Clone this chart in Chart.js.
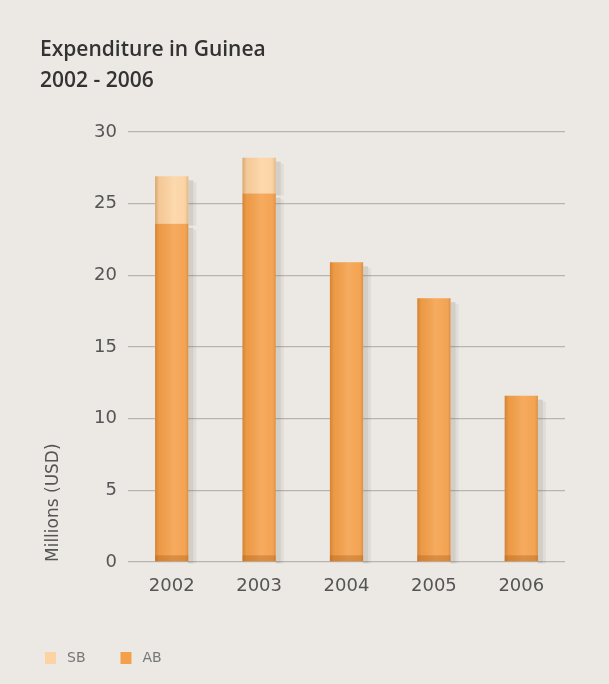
<!DOCTYPE html>
<html>
<head>
<meta charset="utf-8">
<script src="https://cdn.jsdelivr.net/npm/chart.js@4.4.1/dist/chart.umd.min.js"></script>
<style>
  html, body { margin: 0; padding: 0; background: #ece9e4; }
  #wrap { width: 609px; height: 684px; position: relative; }
</style>
</head>
<body>
<div id="wrap"><canvas id="c" width="609" height="684"></canvas></div>
<script>
const categories = ['2002', '2003', '2004', '2005', '2006'];
const abValues = [23.6, 25.7, 20.9, 18.4, 11.6];
const sbValues = [3.3, 2.5, 0, 0, 0];
const yTicks = [0, 5, 10, 15, 20, 25, 30];
const legendOrder = ['SB', 'AB'];

const abColor = '#f4a04a';
const sbColor = '#fcd3a2';

const barShading = {
  id: 'barShading',
  beforeDatasetsDraw(chart) {
    const ctx = chart.ctx;
    ctx.save();
    chart.data.datasets.forEach((ds, di) => {
      const meta = chart.getDatasetMeta(di);
      meta.data.forEach((bar, i) => {
        if (!ds.data[i]) return;
        const w = bar.width;
        const top = Math.min(bar.y, bar.base);
        const h = Math.abs(bar.base - bar.y);
        ctx.fillStyle = 'rgba(120,110,100,0.22)';
        ctx.fillRect(bar.x + w / 2, top + 4, 5, h - 2);
        ctx.fillStyle = 'rgba(120,110,100,0.10)';
        ctx.fillRect(bar.x + w / 2 + 5, top + 6, 3, h - 4);
      });
    });
    ctx.restore();
  },
  afterDatasetsDraw(chart) {
    const ctx = chart.ctx;
    ctx.save();
    chart.data.datasets.forEach((ds, di) => {
      const meta = chart.getDatasetMeta(di);
      meta.data.forEach((bar, i) => {
        if (!ds.data[i]) return;
        const w = bar.width;
        const left = bar.x - w / 2;
        const top = Math.min(bar.y, bar.base);
        const h = Math.abs(bar.base - bar.y);
        const g = ctx.createLinearGradient(left, 0, left + w, 0);
        g.addColorStop(0, 'rgba(150,80,20,0.35)');
        g.addColorStop(0.12, 'rgba(150,80,20,0.08)');
        g.addColorStop(0.55, 'rgba(255,255,255,0.12)');
        g.addColorStop(0.85, 'rgba(255,255,255,0.05)');
        g.addColorStop(1, 'rgba(150,80,20,0.25)');
        ctx.fillStyle = g;
        ctx.fillRect(left, top, w, h);
      });
    });
    const meta0 = chart.getDatasetMeta(0);
    meta0.data.forEach((bar) => {
      const w = bar.width;
      ctx.fillStyle = 'rgba(170,90,20,0.35)';
      ctx.fillRect(bar.x - w / 2, bar.base - 6, w, 6);
    });
    ctx.restore();
  }
};

// Legend drawn from the datasets' own labels and colours
const bottomLegend = {
  id: 'bottomLegend',
  afterDraw(chart) {
    const ctx = chart.ctx;
    ctx.save();
    ctx.font = '14px "DejaVu Sans"';
    ctx.textBaseline = 'middle';
    ctx.textAlign = 'left';
    let x = 45;
    const yMid = 658;
    legendOrder.forEach((name) => {
      const ds = chart.data.datasets.find(d => d.label === name);
      ctx.fillStyle = ds.backgroundColor;
      ctx.fillRect(x, yMid - 6, 11, 12);
      ctx.fillStyle = '#777';
      ctx.fillText(ds.label, x + 22, yMid);
      x += 22 + ctx.measureText(ds.label).width + 35;
    });
    ctx.restore();
  }
};

new Chart(document.getElementById('c'), {
  type: 'bar',
  data: {
    labels: categories,
    datasets: [
      { label: 'AB', data: abValues, backgroundColor: abColor, borderWidth: 0 },
      { label: 'SB', data: sbValues, backgroundColor: sbColor, borderWidth: 0 }
    ]
  },
  options: {
    responsive: false,
    animation: false,
    devicePixelRatio: 1,
    layout: { padding: { left: 40, right: 44, top: 0, bottom: 0 } },
    datasets: { bar: { barPercentage: 0.38, categoryPercentage: 1.0 } },
    scales: {
      x: {
        stacked: true,
        afterFit: (s) => { s.height = 122; },
        grid: { display: false },
        border: { display: false },
        ticks: { color: '#555', font: { family: 'DejaVu Sans', size: 18 }, padding: 6 }
      },
      y: {
        stacked: true,
        min: 0, max: 30,
        afterBuildTicks: (s) => { s.ticks = yTicks.map(v => ({ value: v })); },
        afterFit: (s) => { s.width = 88; },
        grid: { color: '#b8b4af', lineWidth: 1.3, drawTicks: false },
        border: { display: false },
        ticks: { color: '#555', font: { family: 'DejaVu Sans', size: 18 }, padding: 11 },
        title: {
          display: true, text: 'Millions (USD)', align: 'start',
          color: '#555', font: { family: 'DejaVu Sans', size: 17 }, padding: { top: 3, bottom: 0 }
        }
      }
    },
    plugins: {
      title: {
        display: true,
        text: ['Expenditure in Guinea', '2002 - 2006'],
        align: 'start',
        color: '#333',
        font: { family: 'Open Sans', size: 21, weight: '600', lineHeight: 1.45 },
        padding: { top: 35, bottom: 36 }
      },
      legend: { display: false },
      tooltip: { enabled: false }
    }
  },
  plugins: [barShading, bottomLegend]
});
</script>
</body>
</html>
